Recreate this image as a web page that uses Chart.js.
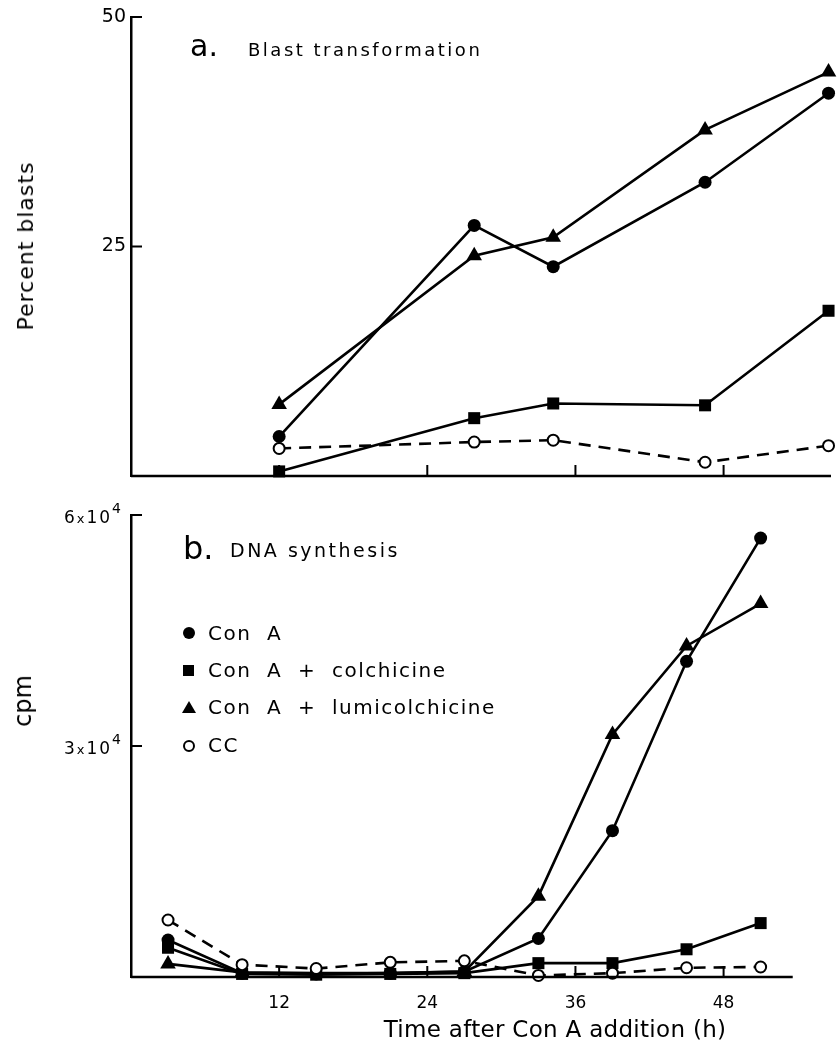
<!DOCTYPE html>
<html lang="en">
<head>
<meta charset="UTF-8">
<title>Blast transformation and DNA synthesis</title>
<script src="https://cdn.jsdelivr.net/npm/chart.js@4"></script>
<style>
  body { margin: 0; background: #fff; }
  #wrap { position: relative; width: 840px; height: 1051px; font-family: "DejaVu Sans", sans-serif; color: #000; overflow: hidden; }
  #wrap canvas { position: absolute; left: 0; }
  .lbl { position: absolute; white-space: nowrap; line-height: 1; }
  .rot { transform: translate(-50%, -50%) rotate(-90deg); }
  #legend { position: absolute; left: 180px; top: 614px; font-size: 20px; letter-spacing: 1.5px; }
  #legend div { height: 37.3px; display: flex; align-items: center; }
  #legend i { display: inline-block; width: 20px; margin-right: 8px; position: relative; height: 14px; }
  #legend i::after { content: ""; position: absolute; left: 3px; top: 1px; }
  .m-circle::after { width: 12px; height: 12px; border-radius: 50%; background: #000; }
  .m-rect::after { width: 11px; height: 11px; background: #000; top: 2px !important; }
  .m-tri::after { width: 0; height: 0; border-left: 7px solid transparent; border-right: 7px solid transparent; border-bottom: 12px solid #000; left: 2px !important; }
  .m-open::after { width: 8px; height: 8px; border-radius: 50%; border: 2px solid #000; top: 2px !important; }
</style>
</head>
<body>
<div id="wrap">
  <canvas id="blastChart" width="840" height="500" style="top:0"></canvas>
  <canvas id="dnaChart" width="840" height="551" style="top:500px"></canvas>

  <div class="lbl" style="left:190px; top:31px; font-size:30px;">a.</div>
  <div class="lbl" style="left:248px; top:41px; font-size:18px; letter-spacing:2.5px;">Blast transformation</div>
  <div class="lbl" style="left:183px; top:532px; font-size:32px;">b.</div>
  <div class="lbl" style="left:230px; top:541px; font-size:19px; letter-spacing:2.5px;">DNA synthesis</div>

  <div class="lbl rot" style="left:26px; top:246px; font-size:22px; letter-spacing:1px;">Percent blasts</div>
  <div class="lbl rot" style="left:23px; top:701px; font-size:24px;">cpm</div>
  <div class="lbl" style="left:555px; top:1029px; font-size:23px; letter-spacing:0.3px; transform: translate(-50%, -50%);">Time after Con A addition (h)</div>

  <div id="legend"></div>
</div>
<script>
// x values (hours after Con A)
const hoursA = [12, 27.8, 34.2, 46.5, 56.5];
const hoursB = [3, 9, 15, 21, 27, 33, 39, 45, 51];

// a. percent blasts
const blastConA  = [4.3, 27.3, 22.8, 32.0, 41.7];
const blastColch = [0.5, 6.3, 7.9, 7.7, 18.0];
const blastLumi  = [7.8, 24.0, 26.0, 37.7, 44.0];
const blastCC    = [3.0, 3.7, 3.9, 1.5, 3.3];

// b. DNA synthesis, cpm
const cpmConA  = [4800, 500, 400, 500, 700, 5000, 19000, 41000, 57000];
const cpmColch = [3800, 400, 300, 400, 500, 1800, 1800, 3600, 7000];
const cpmLumi  = [1700, 600, 500, 500, 700, 10500, 31500, 43000, 48500];
const cpmCC    = [7400, 1600, 1100, 1900, 2100, 200, 500, 1200, 1300];

const seriesNames = ['Con A', 'Con A + colchicine', 'Con A + lumicolchicine', 'CC'];
const xTicks = [12, 24, 36, 48];
const yTicksA = [25, 50];
const yTicksB = [30000, 60000];

const markers = [
  { pointStyle: 'circle', pointRadius: 6.5, backgroundColor: '#000', dash: [] },
  { pointStyle: 'rect', pointRadius: 8.5, backgroundColor: '#000', dash: [] },
  { pointStyle: 'triangle', pointRadius: 9, backgroundColor: '#000', dash: [] },
  { pointStyle: 'circle', pointRadius: 5.5, backgroundColor: '#fff', dash: [12, 8] }
];

function makeSets(xs, lists) {
  return lists.map((vals, i) => ({
    label: seriesNames[i],
    data: vals.map((v, j) => ({ x: xs[j], y: v })),
    borderColor: '#000',
    borderWidth: 2.6,
    borderDash: markers[i].dash,
    pointStyle: markers[i].pointStyle,
    pointRadius: markers[i].pointRadius,
    pointBackgroundColor: markers[i].backgroundColor,
    pointBorderColor: '#000',
    pointBorderWidth: i === 3 ? 2 : 0,
    tension: 0,
    clip: false
  })).reverse();
}

// axis lines, inward ticks and the "n x 10^4" labels
const axisDecor = {
  id: 'axisDecor',
  afterDraw(chart, args, opts) {
    const { ctx, chartArea, scales } = chart;
    ctx.save();
    ctx.strokeStyle = '#000';
    ctx.lineWidth = 2.5;
    ctx.beginPath();
    const xEnd = opts.axisEnd ? scales.x.getPixelForValue(opts.axisEnd) : chartArea.right;
    ctx.moveTo(chartArea.left, chartArea.bottom);
    ctx.lineTo(xEnd, chartArea.bottom);
    ctx.stroke();

    ctx.lineWidth = 2;
    ctx.beginPath();
    xTicks.forEach(v => {
      const x = scales.x.getPixelForValue(v);
      ctx.moveTo(x, chartArea.bottom);
      ctx.lineTo(x, chartArea.bottom - 11);
    });
    opts.yTicks.forEach(v => {
      const y = scales.y.getPixelForValue(v);
      ctx.moveTo(chartArea.left, y);
      ctx.lineTo(chartArea.left + 11, y);
    });
    ctx.stroke();

    if (opts.power) {
      ctx.fillStyle = '#000';
      ctx.textBaseline = 'alphabetic';
      opts.yTicks.forEach(v => {
        const y = scales.y.getPixelForValue(v) + 8;
        const parts = [
          { t: String(v / Math.pow(10, opts.power)), s: 17, dy: 0 },
          { t: 'x', s: 13, dy: 0 },
          { t: '1', s: 17, dy: 0 },
          { t: '0', s: 17, dy: 0 },
          { t: String(opts.power), s: 14, dy: -10 }
        ];
        let x = chartArea.left - 10;
        for (let k = parts.length - 1; k >= 0; k--) {
          ctx.font = parts[k].s + 'px "DejaVu Sans"';
          x -= ctx.measureText(parts[k].t).width;
          ctx.fillText(parts[k].t, x, y + parts[k].dy);
          x -= 2;
        }
      });
    }
    ctx.restore();
  }
};

function baseOptions(yMax, yTicks, power, xLabels, padTop, xHeight, padBottom, axisEnd) {
  return {
    responsive: false,
    animation: false,
    events: [],
    layout: { padding: { top: padTop, bottom: padBottom, left: 0, right: 0 } },
    plugins: { legend: { display: false }, tooltip: { enabled: false }, axisDecor: { yTicks, power, axisEnd } },
    scales: {
      x: {
        type: 'linear', min: 0, max: 56.7,
        grid: { display: false, drawTicks: false },
        border: { display: false },
        afterBuildTicks: s => { s.ticks = xTicks.map(v => ({ value: v })); },
        afterFit: s => { s.height = xHeight; },
        ticks: { display: xLabels, color: '#000', font: { family: 'DejaVu Sans', size: 17 }, padding: 16, maxRotation: 0 }
      },
      y: {
        min: 0, max: yMax,
        grid: { display: false, drawTicks: false },
        border: { display: true, color: '#000', width: 2.5 },
        afterBuildTicks: s => { s.ticks = yTicks.map(v => ({ value: v })); },
        afterFit: s => { s.width = 131; },
        ticks: { display: !power, color: '#000', font: { family: 'DejaVu Sans', size: 19 }, padding: 5 }
      }
    }
  };
}

new Chart(document.getElementById('blastChart'), {
  type: 'line',
  data: { datasets: makeSets(hoursA, [blastConA, blastColch, blastLumi, blastCC]) },
  options: baseOptions(50, yTicksA, 0, false, 17, 0, 24, null),
  plugins: [axisDecor]
});

new Chart(document.getElementById('dnaChart'), {
  type: 'line',
  data: { datasets: makeSets(hoursB, [cpmConA, cpmColch, cpmLumi, cpmCC]) },
  options: baseOptions(60000, yTicksB, 4, true, 15, 74, 0, 53.6),
  plugins: [axisDecor]
});

// legend
const legend = document.getElementById('legend');
const cls = ['m-circle', 'm-rect', 'm-tri', 'm-open'];
seriesNames.forEach((name, i) => {
  const row = document.createElement('div');
  row.innerHTML = '<i class="' + cls[i] + '"></i><span>' + name.replace(/ /g, '\u00a0 ') + '</span>';
  legend.appendChild(row);
});
</script>
</body>
</html>
